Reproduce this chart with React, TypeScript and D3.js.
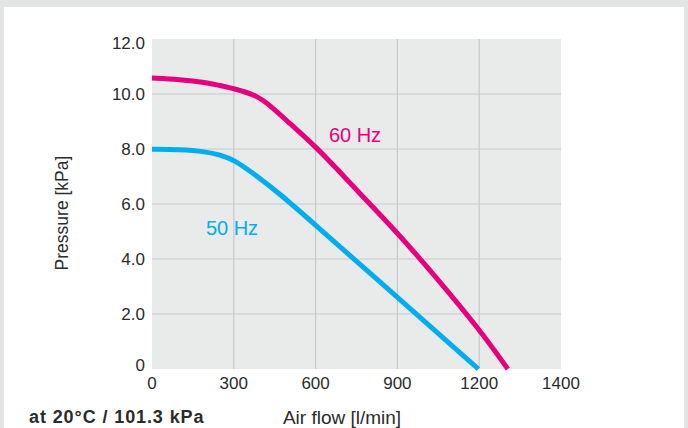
import { useEffect, useRef } from "react";
import * as d3 from "d3";

// x ticks: equal spacing, last label reads "1400" in the original
const xTickValues = [0, 300, 600, 900, 1200, 1500];
const xTickLabels = ["0", "300", "600", "900", "1200", "1400"];
const yTickValues = [0, 2, 4, 6, 8, 10, 12];
const yTickLabels = ["0", "2.0", "4.0", "6.0", "8.0", "10.0", "12.0"];

// air flow [l/min] vs pressure [kPa]
const flow60 = [0, 100, 200, 248, 303, 382, 431, 492, 601, 674, 753, 900, 1045, 1200, 1305];
const press60 = [10.58, 10.53, 10.42, 10.31, 10.19, 9.96, 9.6, 9.05, 8.08, 7.32, 6.48, 4.96, 3.3, 1.45, 0];
const flow50 = [0, 100, 200, 248, 303, 370, 467, 601, 832, 1000, 1197];
const press50 = [7.99, 7.98, 7.9, 7.79, 7.6, 7.12, 6.39, 5.22, 3.2, 1.73, 0];

const W = 688;
const H = 428;
const margin = { top: 39, right: 127, bottom: 59, left: 152 };

export default function App() {
  const ref = useRef<SVGSVGElement>(null);

  useEffect(() => {
    if (!ref.current) return;
    const svg = d3.select(ref.current);
    svg.selectAll("*").remove();
    const font = "'Liberation Sans', Arial, Helvetica, sans-serif";

    // frame
    svg.append("rect").attr("width", W).attr("height", H).attr("fill", "#e3e4e6");
    svg.append("rect").attr("x", 4).attr("y", 7).attr("width", 680).attr("height", H - 7).attr("fill", "#fff");

    const x = d3.scaleLinear().domain([0, 1500]).range([margin.left, W - margin.right]);
    const y = d3.scaleLinear().domain([0, 12]).range([H - margin.bottom, margin.top]);

    svg.append("rect")
      .attr("x", x(0)).attr("y", y(12))
      .attr("width", x(1500) - x(0)).attr("height", y(0) - y(12))
      .attr("fill", "#e9eaea");

    // grid
    const grid = svg.append("g").attr("stroke", "#c7c8c9").attr("stroke-width", 1.2);
    xTickValues.slice(1, -1).forEach(v => {
      grid.append("line").attr("x1", x(v)).attr("x2", x(v)).attr("y1", y(0)).attr("y2", y(12));
    });
    yTickValues.slice(1, -1).forEach(v => {
      grid.append("line").attr("x1", x(0)).attr("x2", x(1500)).attr("y1", y(v)).attr("y2", y(v));
    });

    // tick labels
    const ticks = svg.append("g").style("font-family", font).attr("font-size", 17).attr("fill", "#2b2b2b");
    xTickValues.forEach((v, i) => {
      ticks.append("text").attr("x", x(v)).attr("y", 389).attr("text-anchor", "middle").text(xTickLabels[i]);
    });
    yTickValues.forEach((v, i) => {
      const base = Math.min(Math.max(y(v) + 6, margin.top + 10), H - margin.bottom + 2);
      ticks.append("text").attr("x", 145).attr("y", base).attr("text-anchor", "end").text(yTickLabels[i]);
    });

    // axis titles
    svg.append("text")
      .attr("transform", "translate(62,213) rotate(-90)")
      .attr("text-anchor", "middle").attr("dominant-baseline", "central")
      .style("font-family", font).attr("font-size", 17.5).attr("fill", "#2b2b2b")
      .text("Pressure [kPa]");
    svg.append("text")
      .attr("x", 342).attr("y", 424).attr("text-anchor", "middle")
      .style("font-family", font).attr("font-size", 19).attr("fill", "#2b2b2b")
      .text("Air flow [l/min]");
    svg.append("text")
      .attr("x", 29).attr("y", 423)
      .style("font-family", font).attr("font-size", 18).attr("font-weight", "bold")
      .attr("letter-spacing", 0.9).attr("fill", "#2b2b2b")
      .text("at 20°C / 101.3 kPa");

    // curves
    const line = d3.line<[number, number]>()
      .x(d => x(d[0])).y(d => y(d[1]))
      .curve(d3.curveBasis);
    const s60 = flow60.map((f, i) => [f, press60[i]] as [number, number]);
    const s50 = flow50.map((f, i) => [f, press50[i]] as [number, number]);

    svg.append("path").attr("d", line(s50)).attr("fill", "none")
      .attr("stroke", "#00aeef").attr("stroke-width", 5);
    svg.append("path").attr("d", line(s60)).attr("fill", "none")
      .attr("stroke", "#e6007e").attr("stroke-width", 5);

    svg.append("text").attr("x", 355).attr("y", 142).attr("text-anchor", "middle")
      .style("font-family", font).attr("font-size", 20).attr("fill", "#e6007e").text("60 Hz");
    svg.append("text").attr("x", 232).attr("y", 235).attr("text-anchor", "middle")
      .style("font-family", font).attr("font-size", 20).attr("fill", "#00aeef").text("50 Hz");
  }, []);

  return (
    <svg
      ref={ref}
      width={W}
      height={H}
      style={{ position: "absolute", left: 0, top: 0, display: "block" }}
    />
  );
}
